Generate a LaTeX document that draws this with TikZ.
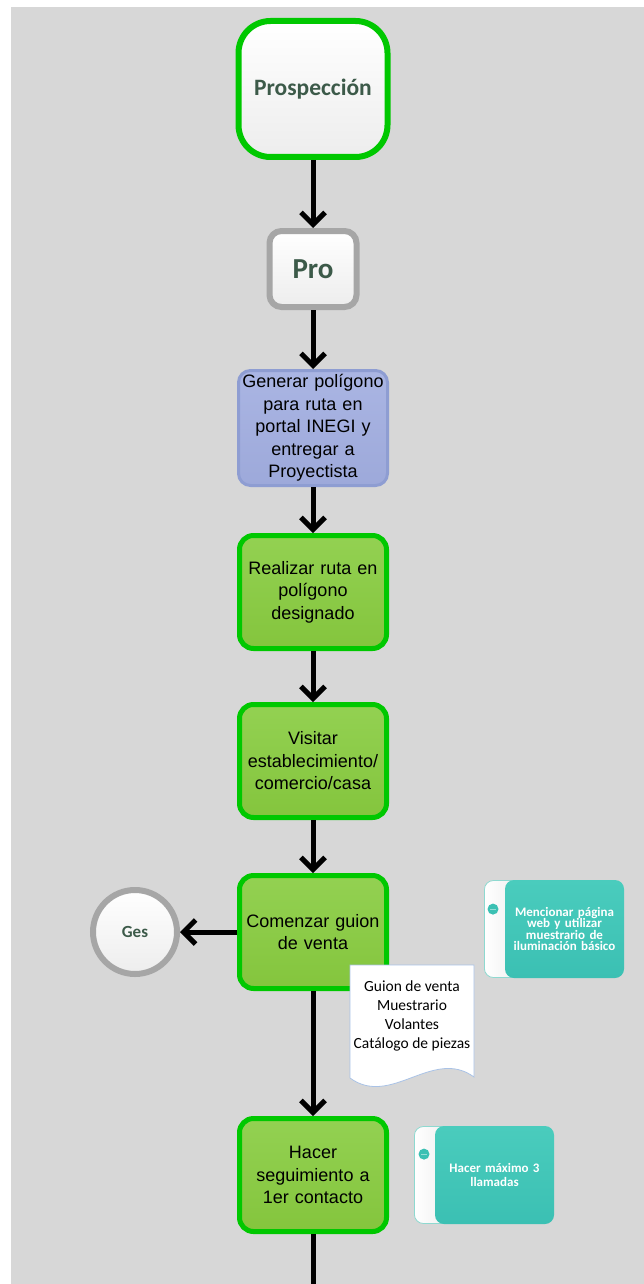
\documentclass[tikz,border=0pt]{standalone}
\usepackage{fontspec}
\setmainfont{Carlito}
\newfontfamily\arialf{Liberation Sans}
\usepackage{tikz}
\usetikzlibrary{positioning,arrows.meta,shapes}

\definecolor{bggray}{HTML}{D7D7D7}
\definecolor{lgreen}{HTML}{00C800}
\definecolor{greent}{HTML}{93D152}
\definecolor{greenb}{HTML}{84C53D}
\definecolor{bordgray}{HTML}{A6A6A6}
\definecolor{wbot}{HTML}{EDEDED}
\definecolor{lbltext}{HTML}{3C5A49}
\definecolor{bluet}{HTML}{AAB5E3}
\definecolor{blueb}{HTML}{9DA9DA}
\definecolor{blueline}{HTML}{8E9DD2}
\definecolor{tealt}{HTML}{4ACCBD}
\definecolor{tealb}{HTML}{3BC0B3}
\definecolor{tealline}{HTML}{8ED9D0}
\definecolor{backg}{HTML}{E4E4E4}
\definecolor{docline}{HTML}{A9C2E6}

\begin{document}
\begin{tikzpicture}[x=1pt, y=1pt,
	startn/.style={rectangle, rounded corners=32pt, draw=lgreen, line width=6pt, top color=white, bottom color=wbot, text=lbltext, font=\fontsize{23.5}{27}\selectfont\bfseries, minimum width=149pt, minimum height=136pt},
	pron/.style={rectangle, rounded corners=12pt, draw=bordgray, line width=6pt, top color=white, bottom color=wbot, text=lbltext, font=\fontsize{29}{33}\selectfont\bfseries, minimum width=87pt, minimum height=76pt},
	bluen/.style={rectangle, rounded corners=12pt, draw=blueline, line width=3pt, top color=bluet, bottom color=blueb, font=\arialf\fontsize{18}{22.5}\selectfont, text width=147pt, align=center, inner sep=0pt, minimum width=149pt, minimum height=115pt},
	greenn/.style={rectangle, rounded corners=14pt, draw=lgreen, line width=5pt, top color=greent, bottom color=greenb, font=\arialf\fontsize{18}{22.5}\selectfont, text width=145pt, align=center, inner sep=0pt, minimum width=147pt, minimum height=113pt},
	gesn/.style={circle, draw=bordgray, line width=6pt, top color=white, bottom color=wbot, text=lbltext, font=\fontsize{17}{20}\selectfont\bfseries, minimum size=84pt},
	tealn/.style={rectangle, rounded corners=9pt, draw=none, top color=tealt, bottom color=tealb, text=white, font=\fontsize{13}{11.5}\selectfont\bfseries, align=center, text width=110pt, inner sep=0pt, minimum width=119pt, minimum height=98pt},
	backn/.style={rectangle, rounded corners=9pt, draw=tealline, line width=0.8pt, left color=white, right color=backg, minimum width=56pt, minimum height=97pt},
	dotn/.style={circle, draw=none, fill=tealb, minimum size=11pt, inner sep=0pt, path picture={\draw[white!45!tealb, line width=1.2pt] ([xshift=-3pt]path picture bounding box.center) -- ([xshift=3pt]path picture bounding box.center);}},
	docn/.style={font=\fontsize{15.5}{19}\selectfont, align=center, inner sep=0pt},
	arr/.style={line width=5pt, -{Straight Barb[length=12pt,width=24pt]}}]

	\useasboundingbox (0,0) rectangle (644,-1284);
	\fill[white] (0,0) rectangle (644,-1284);
	\fill[bggray] (11,-7) rectangle (644,-1284);

	\node (root) [startn] at (313,-89) {Prospección};
	\node (pro) [pron, below=68pt of root] {Pro};
	\node (act1) [bluen, below=59pt of pro] {Generar polígono\\ para ruta en\\ portal INEGI y\\ entregar a\\ Proyectista};
	\node (act2) [greenn, below=46pt of act1] {Realizar ruta en\\ polígono\\ designado};
	\node (act3) [greenn, below=51pt of act2] {Visitar\\ establecimiento/\\ comercio/casa};
	\node (act4) [greenn, below=53pt of act3] {Comenzar guion\\ de venta};
	\node (act5) [greenn, below=125pt of act4] {Hacer\\ seguimiento a\\ 1er contacto};
	\node (ges) [gesn, left=57pt of act4] {Ges};

	\node (nota1bg) [backn, right=95pt of act4, yshift=3pt] {};
	\node (nota1) [tealn, right=-36pt of nota1bg] {Mencionar página\\ web y utilizar\\ muestrario de\\ iluminación básico};
	\node (dot1) [dotn] at ([xshift=9pt,yshift=-29pt]nota1bg.north west) {};

	\node (nota2bg) [backn, right=25pt of act5] {};
	\node (nota2) [tealn, font=\fontsize{13}{13.5}\selectfont\bfseries, right=-36pt of nota2bg] {Hacer máximo 3\\ llamadas};
	\node (dot2) [dotn] at ([xshift=10pt,yshift=-28pt]nota2bg.north west) {};

	\draw[docline, fill=white, line width=0.8pt] (350,-965) -- (474,-965) -- (474,-1077)
		.. controls (433,-1047) and (391,-1108) .. (350,-1078) -- cycle;
	\node (docs) [docn] at (412,-1016) {Guion de venta\\ Muestrario\\ Volantes\\ Catálogo de piezas};

	\coordinate (cut) at (313,-1284);
	\draw[arr] (root) -- (pro);
	\draw[arr] (pro) -- (act1);
	\draw[arr] (act1) -- (act2);
	\draw[arr] (act2) -- (act3);
	\draw[arr] (act3) -- (act4);
	\draw[arr] (act4) -- (act5);
	\draw[arr] (act4) -- (ges);
	\draw[line width=5pt] (act5) -- (cut);

\end{tikzpicture}
\end{document}
